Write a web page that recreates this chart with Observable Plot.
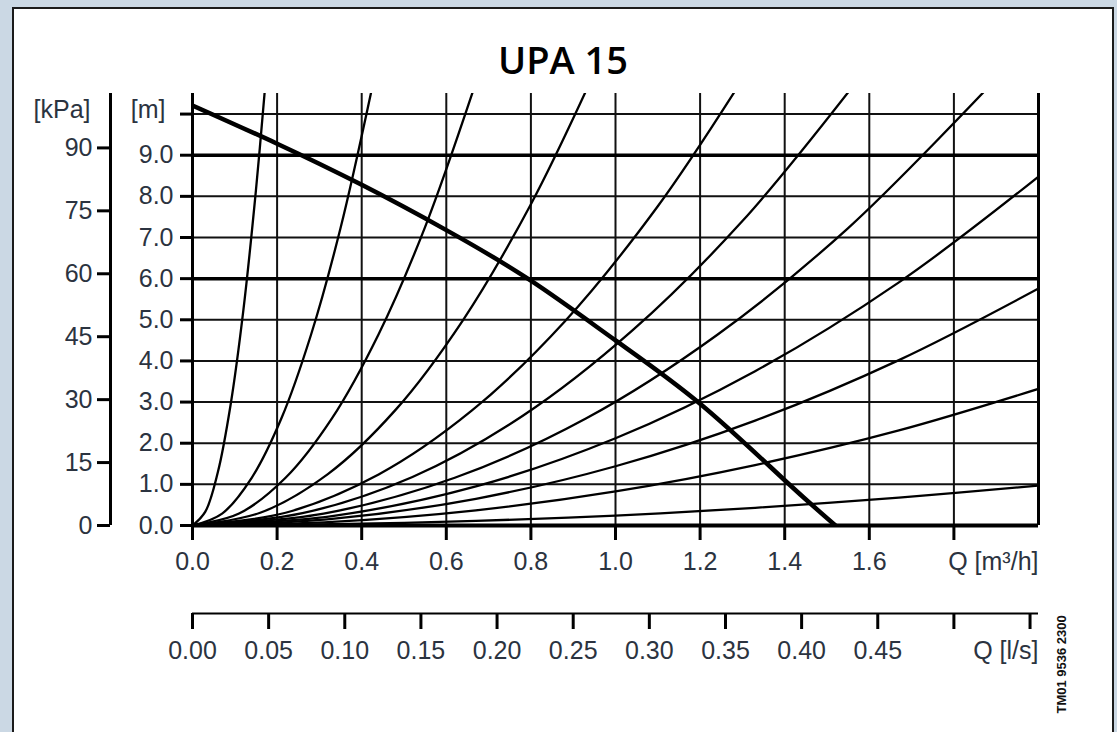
<!DOCTYPE html>
<html>
<head>
<meta charset="utf-8">
<script src="https://cdn.jsdelivr.net/npm/d3@7"></script>
<script src="https://cdn.jsdelivr.net/npm/@observablehq/plot@0.6"></script>
<style>
html, body { margin: 0; padding: 0; background: #cbd8e4; }
#wrap { position: relative; width: 1117px; height: 732px; overflow: hidden; }
#panel { position: absolute; left: 12px; top: 7px; width: 1098px; height: 760px; background: #fff; border: 2px solid #1b1b1b; }
#title { position: absolute; left: 12px; width: 1102px; top: 40px; text-align: center; font: 600 38px "Open Sans", sans-serif; color: #000; line-height: 1; }
#chart { position: absolute; left: 0; top: 0; }
</style>
</head>
<body>
<div id="wrap">
  <div id="panel"></div>
  <div id="title">UPA 15</div>
  <div id="chart"></div>
</div>
<script>
// ---- axis ticks and labels ----
const qTicks   = [0, 0.2, 0.4, 0.6, 0.8, 1.0, 1.2, 1.4, 1.6, 1.8];
const qLabels  = ["0.0", "0.2", "0.4", "0.6", "0.8", "1.0", "1.2", "1.4", "1.6", ""];
const lpsTicks  = [0, 0.05, 0.10, 0.15, 0.20, 0.25, 0.30, 0.35, 0.40, 0.45, 0.50, 0.55];
const lpsLabels = ["0.00", "0.05", "0.10", "0.15", "0.20", "0.25", "0.30", "0.35", "0.40", "0.45", "", ""];
const hTicks  = [0, 1, 2, 3, 4, 5, 6, 7, 8, 9, 10];
const hLabels = ["0.0", "1.0", "2.0", "3.0", "4.0", "5.0", "6.0", "7.0", "8.0", "9.0", ""];
const kpaTicks  = [0, 15, 30, 45, 60, 75, 90];
const kpaLabels = ["0", "15", "30", "45", "60", "75", "90"];
const gridQ = [0.2, 0.4, 0.6, 0.8, 1.0, 1.2, 1.4, 1.6, 1.8];
const gridHThin = [1, 2, 3, 4, 5, 7, 8, 10];
const gridHBold = [6, 9];
const frameQ = [0, 2.0];

// ---- pump curve (Q m³/h, H m) ----
const pumpQ = [0, 0.2, 0.4, 0.6, 0.8, 1.0, 1.2, 1.4, 1.52];
const pumpH = [10.21, 9.28, 8.28, 7.18, 5.95, 4.50, 2.96, 1.10, 0.0];

// ---- system curves, points [Q, H] ----
const sys1  = [[0, 0], [0.03, 0.33], [0.06, 1.30], [0.09, 2.93], [0.12, 5.21], [0.15, 8.15], [0.172, 10.7]];
const sys2  = [[0, 0], [0.07, 0.29], [0.14, 1.16], [0.21, 2.60], [0.28, 4.63], [0.35, 7.23], [0.425, 10.66]];
const sys3  = [[0, 0], [0.11, 0.29], [0.22, 1.16], [0.33, 2.61], [0.44, 4.65], [0.55, 7.26], [0.67, 10.77]];
const sys4  = [[0, 0], [0.16, 0.31], [0.32, 1.25], [0.48, 2.81], [0.64, 5.00], [0.80, 7.81], [0.94, 10.78]];
const sys5  = [[0, 0], [0.22, 0.31], [0.44, 1.24], [0.66, 2.79], [0.88, 4.96], [1.10, 7.76], [1.29, 10.68]];
const sys6  = [[0, 0], [0.26, 0.30], [0.52, 1.18], [0.78, 2.66], [1.04, 4.74], [1.30, 7.40], [1.56, 10.66]];
const sys7  = [[0, 0], [0.31, 0.29], [0.62, 1.16], [0.93, 2.60], [1.24, 4.63], [1.55, 7.23], [1.88, 10.64]];
const sys8  = [[0, 0], [0.33, 0.23], [0.67, 0.95], [1.00, 2.12], [1.33, 3.75], [1.67, 5.91], [2.00, 8.48]];
const sys9  = [[0, 0], [0.33, 0.16], [0.67, 0.65], [1.00, 1.44], [1.33, 2.55], [1.67, 4.02], [2.00, 5.76]];
const sys10 = [[0, 0], [0.33, 0.09], [0.67, 0.37], [1.00, 0.83], [1.33, 1.47], [1.67, 2.31], [2.00, 3.32]];
const sys11 = [[0, 0], [0.33, 0.03], [0.67, 0.11], [1.00, 0.24], [1.33, 0.43], [1.67, 0.68], [2.00, 0.97]];

const M_TO_KPA = 9.80665;
const LPS_TO_M3H = 3.6;

const systemRows = [sys1, sys2, sys3, sys4, sys5, sys6, sys7, sys8, sys9, sys10, sys11]
  .flatMap((c, i) => c.map(([q, h]) => ({curve: i, q, h})));
const pumpRows = pumpQ.map((q, i) => ({q, h: pumpH[i]}));

const qLabelOf = new Map(qTicks.map((t, i) => [t, qLabels[i]]));
const lpsRows = lpsTicks.map((t, i) => ({v: t * LPS_TO_M3H, label: lpsLabels[i]}));
const lpsLabelOf = new Map(lpsRows.map(r => [r.v, r.label]));
const hLabelOf = new Map(hTicks.map((t, i) => [t, hLabels[i]]));
const kpaRows = kpaTicks.map((t, i) => ({v: t / M_TO_KPA, label: kpaLabels[i]}));
const kpaLabelOf = new Map(kpaRows.map(r => [r.v, r.label]));

const yMax = 10.5;
const textColor = "#2b3340";

const chart = Plot.plot({
  width: 1117,
  height: 732,
  marginLeft: 192,
  marginRight: 79,
  marginTop: 93,
  marginBottom: 207,
  x: {domain: [0, 2.0], axis: null},
  y: {domain: [0, yMax], axis: null},
  style: {fontFamily: "'Liberation Sans', Arial, sans-serif", fontSize: "25px", background: "transparent", overflow: "visible"},
  marks: [
    // grid
    Plot.ruleX(gridQ, {y1: 0, y2: yMax, stroke: "#111", strokeWidth: 2}),
    Plot.ruleY(gridHThin, {x1: 0, x2: 2.0, stroke: "#111", strokeWidth: 2}),
    Plot.ruleY(gridHBold, {x1: 0, x2: 2.0, stroke: "#000", strokeWidth: 3.5}),
    Plot.ruleX(frameQ, {y1: 0, y2: yMax, stroke: "#000", strokeWidth: 3}),
    // system curves
    Plot.line(systemRows, {x: "q", y: "h", z: "curve", curve: "catmull-rom", stroke: "#000", strokeWidth: 2.3, clip: true}),
    // pump curve
    Plot.line(pumpRows, {x: "q", y: "h", curve: "natural", stroke: "#000", strokeWidth: 4.5, clip: true}),
    Plot.ruleY([0], {x1: 0, x2: 2.0, stroke: "#000", strokeWidth: 4}),
    // primary x axis (m³/h)
    Plot.axisX(qTicks, {anchor: "bottom", tickSize: 15, tickPadding: 12, strokeWidth: 3, stroke: "#000", fill: textColor,
      tickFormat: d => qLabelOf.get(d), fontSize: 25, label: null}),
    Plot.text(["Q [m³/h]"], {frameAnchor: "bottom-right", textAnchor: "end", lineAnchor: "top", dy: 27, fill: textColor, fontSize: 25}),
    // secondary x axis (l/s)
    Plot.ruleY([0], {x1: 0, x2: 2.0, dy: 88, stroke: "#000", strokeWidth: 2}),
    Plot.axisX(lpsRows.map(r => r.v), {anchor: "bottom", dy: 88, tickSize: 16, tickPadding: 12, strokeWidth: 3, stroke: "#000", fill: textColor,
      tickFormat: d => lpsLabelOf.get(d), fontSize: 25, label: null}),
    Plot.text(["Q [l/s]"], {frameAnchor: "bottom-right", textAnchor: "end", lineAnchor: "top", dy: 116, fill: textColor, fontSize: 25}),
    // m axis
    Plot.axisY(hTicks, {anchor: "left", tickSize: 12, tickPadding: 7, strokeWidth: 3, stroke: "#000", fill: textColor,
      tickFormat: d => hLabelOf.get(d), fontSize: 25, label: null}),
    Plot.text([10], {y: d => d, text: () => "[m]", frameAnchor: "left", textAnchor: "end", dx: -27, dy: -4, fill: textColor, fontSize: 25}),
    // kPa axis
    Plot.ruleX([0], {y1: 0, y2: yMax, dx: -82, stroke: "#000", strokeWidth: 3}),
    Plot.axisY(kpaRows.map(r => r.v), {anchor: "left", dx: -82, tickSize: 13, tickPadding: 5, strokeWidth: 3, stroke: "#000", fill: textColor,
      tickFormat: d => kpaLabelOf.get(d), fontSize: 25, label: null}),
    Plot.text([10], {y: d => d, text: () => "[kPa]", frameAnchor: "left", textAnchor: "end", dx: -102, dy: -4, fill: textColor, fontSize: 25}),
    // drawing number
    Plot.text(["TM01 9536 2300"], {frameAnchor: "bottom-right", rotate: -90, textAnchor: "start", dx: 27, dy: 188,
      fill: "#111", fontSize: 13, fontWeight: "bold"})
  ]
});
document.getElementById("chart").appendChild(chart);
</script>
</body>
</html>
